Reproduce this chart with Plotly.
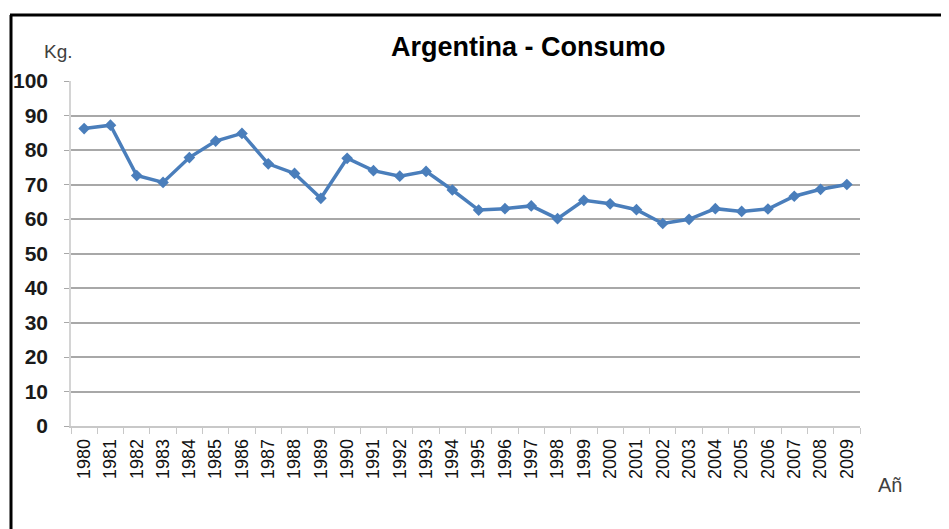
import plotly.graph_objects as go

years = [str(y) for y in range(1980, 2010)]
consumo = [86.2, 87.2, 72.6, 70.6, 77.8, 82.6, 84.8, 76.0, 73.2, 66.0,
           77.6, 74.0, 72.4, 73.8, 68.4, 62.6, 63.0, 63.8, 60.1, 65.4,
           64.4, 62.7, 58.7, 59.9, 63.0, 62.2, 62.9, 66.6, 68.6, 70.0]
y_ticks = [0, 10, 20, 30, 40, 50, 60, 70, 80, 90, 100]

OFF = 8  # page body margin
W, H = 949 - OFF, 529 - OFF
# plot area in page pixels: left 71, right 860, top 81, bottom 426
L = 71 - OFF
R = W - (860 - OFF)
T = 81 - OFF
B = H - (426 - OFF)
pw, ph = W - L - R, H - T - B


def px(x):
    return (x - OFF - L) / pw


def py(y):
    return (H - B - (y - OFF)) / ph


fig = go.Figure()
fig.add_trace(go.Scatter(
    x=years, y=consumo, mode="lines+markers",
    line=dict(color="#4a7ebb", width=3.5),
    marker=dict(symbol="diamond", size=9, color="#4a7ebb"),
    showlegend=False, hoverinfo="x+y",
))

fig.update_layout(
    width=W, height=H,
    margin=dict(l=L, r=R, t=T, b=B, autoexpand=False),
    paper_bgcolor="white", plot_bgcolor="white",
    font=dict(family="Liberation Sans, Arial, sans-serif", color="#000000", size=12),
    xaxis=dict(
        type="category", tickangle=-90, tickson="boundaries",
        ticks="outside", ticklen=6, tickcolor="#c8c8c8",
        showline=True, linecolor="#c8c8c8", linewidth=1.5,
        showgrid=False, tickfont=dict(size=18, color="#111111"),
        ticklabelstandoff=4, automargin=False,
        range=[-0.5, len(years) - 0.5],
    ),
    yaxis=dict(
        range=[0, 100], tickvals=y_ticks, ticktext=[str(v) for v in y_ticks],
        showgrid=True, gridcolor="#a8a8a8", gridwidth=1.5,
        showline=True, linecolor="#d4d4d4", linewidth=1.5,
        zeroline=False, ticks="outside", ticklen=5, tickcolor="#a8a8a8",
        ticklabelstandoff=12, automargin=False,
        tickfont=dict(size=21, color="#1a1a1a", weight="bold"),
    ),
    shapes=[
        dict(type="line", xref="paper", yref="paper",
             x0=px(10), x1=px(960), y0=py(15), y1=py(15),
             line=dict(color="black", width=3)),
        dict(type="line", xref="paper", yref="paper",
             x0=px(11), x1=px(11), y0=py(15), y1=py(540),
             line=dict(color="black", width=3)),
    ],
    annotations=[
        dict(text="<b>Argentina - Consumo</b>", xref="paper", yref="paper",
             x=px(528), y=py(47), showarrow=False,
             font=dict(size=27, color="#000000"), xanchor="center", yanchor="middle"),
        dict(text="Kg.", xref="paper", yref="paper",
             x=px(58), y=py(51), showarrow=False,
             font=dict(size=19, color="#404040"), xanchor="center", yanchor="middle"),
        dict(text="Añ", xref="paper", yref="paper",
             x=px(890), y=py(485), showarrow=False,
             font=dict(size=20, color="#404040"), xanchor="center", yanchor="middle"),
    ],
)

fig.write_html("out.html")
